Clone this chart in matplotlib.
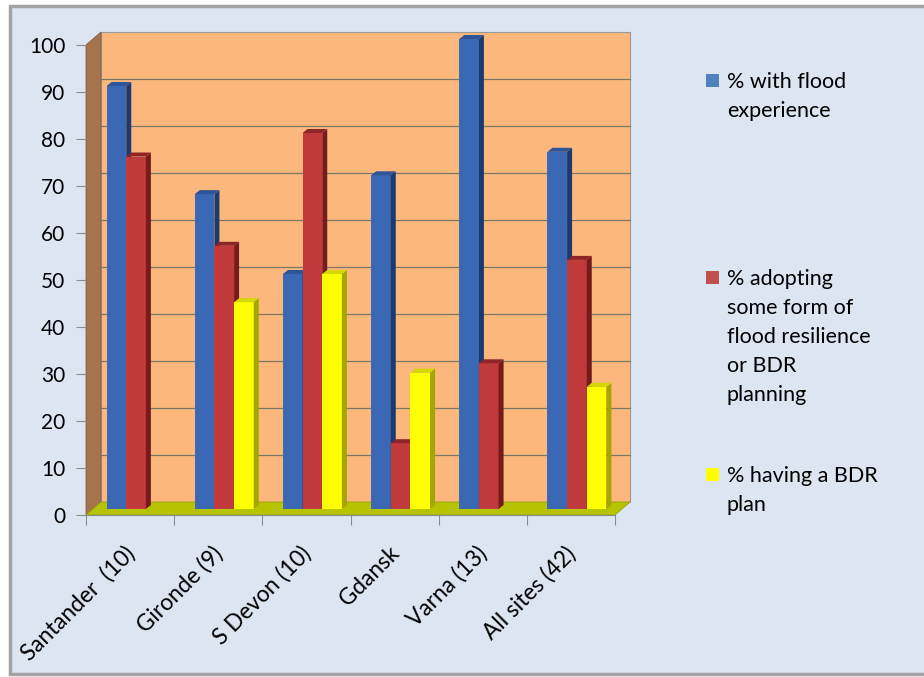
import matplotlib
matplotlib.use("Agg")
import matplotlib.pyplot as plt
from matplotlib.patches import Polygon, Rectangle
from matplotlib.transforms import offset_copy

# Dados
categorias = ["Santander  (10)", "Gironde (9)", "S Devon (10)", "Gdansk", "Varna (13)", "All sites (42)"]
experiencia = [90, 67, 50, 71, 100, 76]
adaptacao = [75, 56, 80, 14, 31, 53]
plano_bdr = [0, 44, 50, 29, 0, 26]
rotulos = ["% with flood\nexperience",
           "% adopting\nsome form of\nflood resilience\nor BDR\nplanning",
           "% having a BDR\nplan"]
yticks = list(range(0, 101, 10))

W, H = 924, 677
plt.rcParams["font.family"] = ["Lato", "DejaVu Sans"]

fig = plt.figure(figsize=(W / 100, H / 100), dpi=100)
fig.patch.set_facecolor("white")
fig.patches.append(Rectangle((10 / W, 3 / H), 1, 668 / H, transform=fig.transFigure,
                             facecolor="#dce6f2", edgecolor="#a3a3a3", lw=2.5, zorder=-5))

ax = fig.add_axes([86 / W, (H - 515) / H, (615 - 86) / W, 470 / H])
ax.set_zorder(2)
ax.set_xlim(0, len(categorias))
ax.set_ylim(0, 100)
ax.patch.set_visible(False)
for s in ax.spines.values():
    s.set_visible(False)

px_x = (615 - 86) / len(categorias)
px_y = 470 / 100
DX, DY = 15 / px_x, 13 / px_y  # profundidade das paredes

# paredes e piso (efeito 3D)
n = len(categorias)
ax.add_patch(Rectangle((DX, DY), n, 100, facecolor="#fcb77d", edgecolor="#9a9a9a",
                       lw=0.8, zorder=1, clip_on=False))
ax.add_patch(Polygon([(0, 0), (DX, DY), (DX, 100 + DY), (0, 100)], closed=True,
                     facecolor="#a5744d", edgecolor="#8a6040", lw=0.6, zorder=1, clip_on=False))
ax.add_patch(Polygon([(0, 0), (n, 0), (n + DX, DY), (DX, DY)], closed=True,
                     facecolor="#b6c400", edgecolor="#9aa200", lw=0.6, zorder=1.2, clip_on=False))
for v in yticks[1:-1]:
    ax.plot([DX, n + DX], [v + DY, v + DY], color="#7c7865", lw=0.9, zorder=1.5, clip_on=False)

# barras
w = 0.223
bx, by = 6 / px_x, 6 / px_y
dx, dy = 5 / px_x, 4 / px_y
series = [
    (experiencia, "#3b68b5", "#1d3a6e", "#2d5598"),
    (adaptacao, "#c0393b", "#761a1c", "#8f2527"),
    (plano_bdr, "#ffff00", "#a5a600", "#d6d600"),
]
for j, (vals, cf, cs, ct) in enumerate(series):
    xs = [i + 0.5 - 1.5 * w + j * w + bx for i in range(n)]
    bars = ax.bar(xs, vals, width=w, bottom=by, align="edge", color=cf, lw=0, clip_on=False)
    for i, (b, v) in enumerate(zip(bars, vals)):
        z = 3 + i * 3 + j
        if v <= 0:
            b.set_visible(False)
            continue
        b.set_zorder(z)
        x0 = b.get_x()
        ax.add_patch(Polygon([(x0 + w, by), (x0 + w + dx, by + dy), (x0 + w + dx, by + v + dy),
                              (x0 + w, by + v)], closed=True, facecolor=cs, lw=0,
                             zorder=z, clip_on=False))
        ax.add_patch(Polygon([(x0, by + v), (x0 + w, by + v), (x0 + w + dx, by + v + dy),
                              (x0 + dx, by + v + dy)], closed=True, facecolor=ct, lw=0,
                             zorder=z, clip_on=False))

# eixos
ax.set_yticks(yticks)
ax.set_yticklabels([str(t) for t in yticks])
ax.set_xticks(range(n + 1))
ax.set_xticklabels([])
ax.tick_params(axis="y", length=7, color="#8c8c8c", pad=8, labelsize=15)
ax.tick_params(axis="x", length=7, color="#8c8c8c")
ax.spines["bottom"].set_visible(True)
ax.spines["bottom"].set_color("#8c8c8c")

trans = offset_copy(ax.get_xaxis_transform(), fig=fig, x=1, y=-35, units="dots")
for i, lab in enumerate(categorias):
    ax.text(i + 0.5, 0, lab, transform=trans, rotation=45, ha="right", va="center",
            rotation_mode="anchor", fontsize=16.3)

# legenda manual
cores_leg = ["#4f81bd", "#c0504d", "#ffff00"]
base_leg = [88, 285, 482]
for lab, cor, yb in zip(rotulos, cores_leg, base_leg):
    fig.patches.append(Rectangle((706 / W, 1 - (yb - 1) / H), 13 / W, 13 / H,
                                 transform=fig.transFigure, facecolor=cor, lw=0))
    for k, linha in enumerate(lab.split("\n")):
        fig.text(727 / W, 1 - (yb + 29 * k) / H, linha, fontsize=15.5, va="baseline", ha="left")

fig.savefig("out.png", dpi=100)
